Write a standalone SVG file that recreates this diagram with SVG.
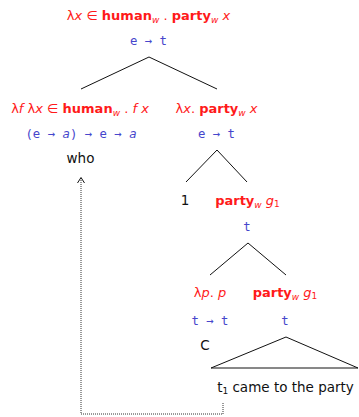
<svg xmlns="http://www.w3.org/2000/svg" width="359" height="417" viewBox="0 0 359 417">
<style>
.sem{font-family:"DejaVu Sans","Liberation Sans",sans-serif;font-size:13px;fill:#ff1a1a;text-anchor:middle}
.ty{font-family:"DejaVu Sans Mono","Liberation Mono",monospace;font-size:12.3px;fill:#4646cc;text-anchor:middle}
.wd{font-family:"DejaVu Sans","Liberation Sans",sans-serif;font-size:13.5px;fill:#111;text-anchor:middle}
.b{font-weight:bold}
.i{font-style:italic}
.sub{font-size:9px;font-style:italic}
.edge{stroke:#111;stroke-width:1;fill:none}
.dot{stroke:#333;stroke-width:1;fill:none;stroke-dasharray:1 1}
</style>
<g id="connectors">
<path class="edge" d="M81,89 L149,57 L217,89"/>
<path class="edge" d="M186,182 L217,150 L247,182"/>
<path class="edge" d="M210,275 L248,243 L286,275"/>
<path class="edge" d="M286,337 L211,368 L358,368 Z"/>
<path class="dot" d="M223,403 L223,414 L81,414 L81,178"/>
<path class="edge" d="M77.5,183 L81,177.5 L84.5,183"/>
</g>
<g id="root">
<text class="sem" x="148.5" y="20"><tspan>λ</tspan><tspan class="i">x</tspan> ∈ <tspan class="b">human</tspan><tspan class="sub" dy="3">w</tspan><tspan dy="-3"> . </tspan><tspan class="b">party</tspan><tspan class="sub" dy="3">w</tspan><tspan class="i" dy="-3"> x</tspan></text>
<text class="ty" x="148.5" y="45">e → t</text>
</g>
<g id="who">
<text class="sem" x="80" y="113"><tspan>λ</tspan><tspan class="i">f</tspan> λ<tspan class="i">x</tspan> ∈ <tspan class="b">human</tspan><tspan class="sub" dy="3">w</tspan><tspan dy="-3"> . </tspan><tspan class="i">f x</tspan></text>
<text class="ty" x="81" y="138">(e → <tspan class="i">a</tspan>) → e → <tspan class="i">a</tspan></text>
<text class="wd" x="80.5" y="163">who</text>
</g>
<g id="lambda-party">
<text class="sem" x="216.5" y="113"><tspan>λ</tspan><tspan class="i">x</tspan>. <tspan class="b">party</tspan><tspan class="sub" dy="3">w</tspan><tspan class="i" dy="-3"> x</tspan></text>
<text class="ty" x="216.5" y="138">e → t</text>
</g>
<g id="index">
<text class="wd" x="185" y="205">1</text>
</g>
<g id="party-g1">
<text class="sem" x="247.5" y="205"><tspan class="b">party</tspan><tspan class="sub" dy="3">w</tspan><tspan class="i" dy="-3"> g</tspan><tspan font-size="9px" dy="2">1</tspan></text>
<text class="ty" x="247" y="231">t</text>
</g>
<g id="C">
<text class="sem" x="210" y="297"><tspan>λ</tspan><tspan class="i">p</tspan>. <tspan class="i">p</tspan></text>
<text class="ty" x="210" y="325">t → t</text>
<text class="wd" x="205" y="350">C</text>
</g>
<g id="TP">
<text class="sem" x="285" y="297"><tspan class="b">party</tspan><tspan class="sub" dy="3">w</tspan><tspan class="i" dy="-3"> g</tspan><tspan font-size="9px" dy="2">1</tspan></text>
<text class="ty" x="285" y="325">t</text>
<text class="wd" x="285.5" y="392">t<tspan font-size="9px" dy="2">1</tspan><tspan dy="-2"> came to the party</tspan></text>
</g>
</svg>
